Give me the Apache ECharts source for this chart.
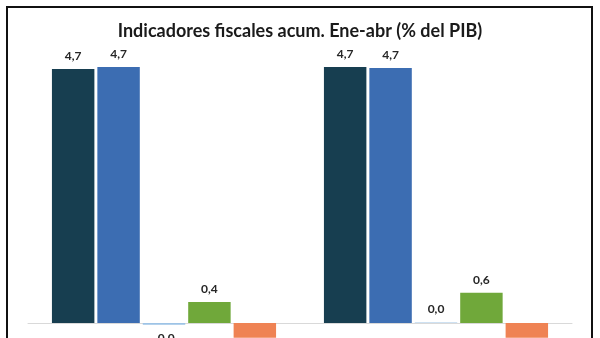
<!DOCTYPE html>
<html>
<head>
<meta charset="utf-8">
<script src="https://cdn.jsdelivr.net/npm/echarts@6/dist/echarts.min.js"></script>
<style>
html,body{margin:0;padding:0;background:#fff;}
#c{width:600px;height:338px;}
</style>
</head>
<body>
<div id="c"></div>
<script>
const categories = ['Grupo 1', 'Grupo 2'];
const seriesNames = ['Serie 1', 'Serie 2', 'Serie 3', 'Serie 4', 'Serie 5'];
const serie1 = [4.68, 4.72];
const serie2 = [4.72, 4.70];
const serie3 = [-0.03, 0.01];
const serie4 = [0.39, 0.56];
const serie5 = [-0.5, -0.5];
const colors = ['#173e50', '#3c6db2', '#9dc3e6', '#70a83a', '#ef8354'];
const titleText = 'Indicadores fiscales acum. Ene-abr (% del PIB)';

const allSeries = [serie1, serie2, serie3, serie4, serie5];
const chart = echarts.init(document.getElementById('c'));
function fmt(v){ return v.toFixed(1).replace('.', ','); }

chart.setOption({
  animation: false,
  title: {
    text: titleText,
    left: 'center',
    top: 17,
    textStyle: { fontFamily: 'Lato', fontWeight: 'bold', fontSize: 18, color: '#1a1a1a' }
  },
  grid: { left: 28, right: 28, top: 51.7, bottom: 0.3, containLabel: false },
  xAxis: {
    type: 'category',
    data: categories,
    axisLine: { show: true, onZero: true, lineStyle: { color: '#d9d9d9', width: 1 } },
    axisTick: { show: false },
    axisLabel: { show: false }
  },
  yAxis: {
    type: 'value',
    min: -0.27, max: 5,
    show: false,
    splitLine: { show: false }
  },
  series: allSeries.map((arr, i) => ({
    name: seriesNames[i],
    type: 'bar',
    barCategoryGap: '17.6%',
    barGap: '7%',
    itemStyle: { color: colors[i] },
    data: arr.map(v => ({
      value: v,
      label: {
        show: true,
        position: v < 0 ? 'bottom' : 'top',
        distance: 7,
        formatter: p => fmt(p.value),
        fontFamily: 'Lato', fontWeight: 'bold', fontSize: 12, color: '#262626'
      }
    }))
  })),
  graphic: [{
    type: 'rect',
    shape: { x: 7, y: 7, width: 585, height: 360 },
    style: { fill: 'none', stroke: '#111', lineWidth: 2 },
    z: 100
  }]
});
</script>
</body>
</html>
